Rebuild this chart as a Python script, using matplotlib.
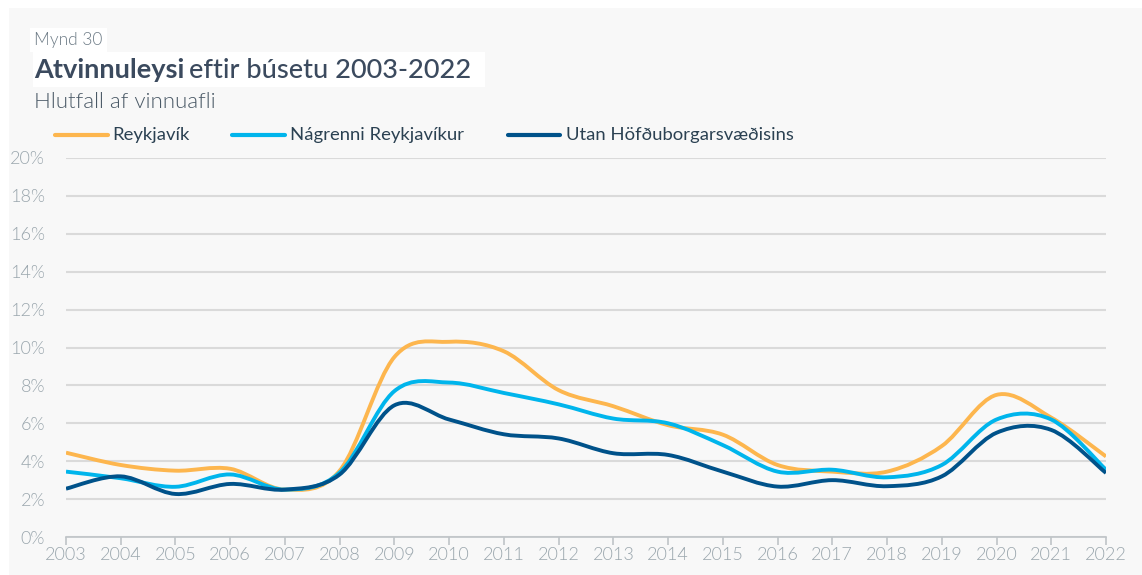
import matplotlib
matplotlib.use("Agg")
import matplotlib.pyplot as plt
from matplotlib.path import Path
from matplotlib.patches import PathPatch, Rectangle
from matplotlib.lines import Line2D

plt.rcParams["font.family"] = ["Lato", "DejaVu Sans"]

years = list(range(2003, 2023))
reykjavik = [4.45, 3.8, 3.5, 3.6, 2.5, 3.5, 9.5, 10.3, 9.8, 7.75, 6.9, 5.9, 5.4,
             3.8, 3.45, 3.45, 4.8, 7.5, 6.3, 4.25]
nagrenni = [3.45, 3.1, 2.65, 3.3, 2.5, 3.4, 7.7, 8.15, 7.6, 7.0, 6.25, 6.0, 4.85,
            3.45, 3.55, 3.15, 3.8, 6.2, 6.2, 3.55]
utan = [2.55, 3.2, 2.27, 2.8, 2.5, 3.3, 6.95, 6.2, 5.42, 5.2, 4.42, 4.33, 3.45,
        2.66, 3.0, 2.68, 3.2, 5.5, 5.65, 3.38]
series_names = ["Reykjavík", "Nágrenni Reykjavíkur", "Utan Höfðuborgarsvæðisins"]
y_ticks = list(range(0, 21, 2))

COLORS = ["#FDB64E", "#00B5EC", "#00528A"]
BG = "#F8F8F8"
GRID = "#DADADA"
TICK = "#9AA6AD"
LIGHT = 300


def spline_path(xs, ys):
    """Catmull-Rom spline through the points, drawn as cubic beziers."""
    n = len(xs)
    verts = [(xs[0], ys[0])]
    codes = [Path.MOVETO]
    for i in range(n - 1):
        i0 = max(i - 1, 0)
        i3 = min(i + 2, n - 1)
        c1 = (xs[i] + (xs[i + 1] - xs[i0]) / 6, ys[i] + (ys[i + 1] - ys[i0]) / 6)
        c2 = (xs[i + 1] - (xs[i3] - xs[i]) / 6, ys[i + 1] - (ys[i3] - ys[i]) / 6)
        verts += [c1, c2, (xs[i + 1], ys[i + 1])]
        codes += [Path.CURVE4] * 3
    return Path(verts, codes)


W, H = 1142, 575
fig = plt.figure(figsize=(W / 100, H / 100), dpi=100)
fig.patch.set_facecolor("white")
fig.add_artist(Rectangle((9 / W, 0), 1 - 9 / W, 1 - 8 / H, transform=fig.transFigure,
                         facecolor=BG, edgecolor="none", zorder=-10))

ax = fig.add_axes([66 / W, (H - 537) / H, (1106 - 66) / W, (537 - 158) / H])
ax.patch.set_alpha(0)

for vals, color in zip([reykjavik, nagrenni, utan], COLORS):
    ax.add_patch(PathPatch(spline_path(years, vals), facecolor="none", edgecolor=color,
                           linewidth=2.8, capstyle="butt", joinstyle="round", zorder=3))

ax.set_xlim(years[0], years[-1])
ax.set_ylim(0, 20)
ax.set_xticks(years)
ax.set_xticklabels([str(y) for y in years])
ax.set_yticks(y_ticks)
ax.set_yticklabels([f"{t}%" for t in y_ticks])
ax.yaxis.grid(True, color=GRID, linewidth=1.5)
ax.set_axisbelow(True)
for s in ("top", "right", "left"):
    ax.spines[s].set_visible(False)
ax.spines["bottom"].set_color("#BFC4C7")
ax.spines["bottom"].set_linewidth(1.2)
ax.tick_params(axis="x", length=6, width=1.2, color="#BFC4C7", labelcolor=TICK,
               labelsize=13, pad=1)
ax.tick_params(axis="y", length=0, labelcolor=TICK, labelsize=13, pad=15)
for lab in ax.get_xticklabels() + ax.get_yticklabels():
    lab.set_fontweight(LIGHT)

# titles
fig.text(34 / W, 1 - 40 / H, "Mynd 30", fontsize=12.5, fontweight=LIGHT, color="#6E7C87",
         va="center", ha="left",
         bbox=dict(boxstyle="square,pad=0.25", facecolor="white", edgecolor="none"))
fig.add_artist(Rectangle((33 / W, 1 - 87 / H), (485 - 33) / W, 35 / H, transform=fig.transFigure,
                         facecolor="white", edgecolor="none", zorder=0))
t1 = fig.text(34 / W, 1 - 70 / H, "Atvinnuleysi", fontsize=19.5, fontweight="bold",
              color="#3B4A5E", va="center", ha="left")
fig.canvas.draw()
bb = t1.get_window_extent()
fig.text(bb.x1 / W + 5 / W, 1 - 70 / H, "eftir búsetu 2003-2022", fontsize=19.5,
         fontweight="medium", color="#3B4A5E", va="center", ha="left")
fig.text(34 / W, 1 - 102 / H, "Hlutfall af vinnuafli", fontsize=16, fontweight=LIGHT,
         color="#4A5966", va="center", ha="left")

# legend
leg_x = [(55, 108, 112), (232, 285, 290), (508, 560, 566)]
for (x0, x1, tx), name, color in zip(leg_x, series_names, COLORS):
    fig.add_artist(Line2D([x0 / W, x1 / W], [1 - 135 / H] * 2, color=color, linewidth=3,
                          solid_capstyle="round", transform=fig.transFigure))
    fig.text(tx / W, 1 - 135 / H, name, fontsize=13.3, color="#2B4152",
             va="center", ha="left")

fig.savefig("out.png", dpi=100, facecolor=fig.get_facecolor())
